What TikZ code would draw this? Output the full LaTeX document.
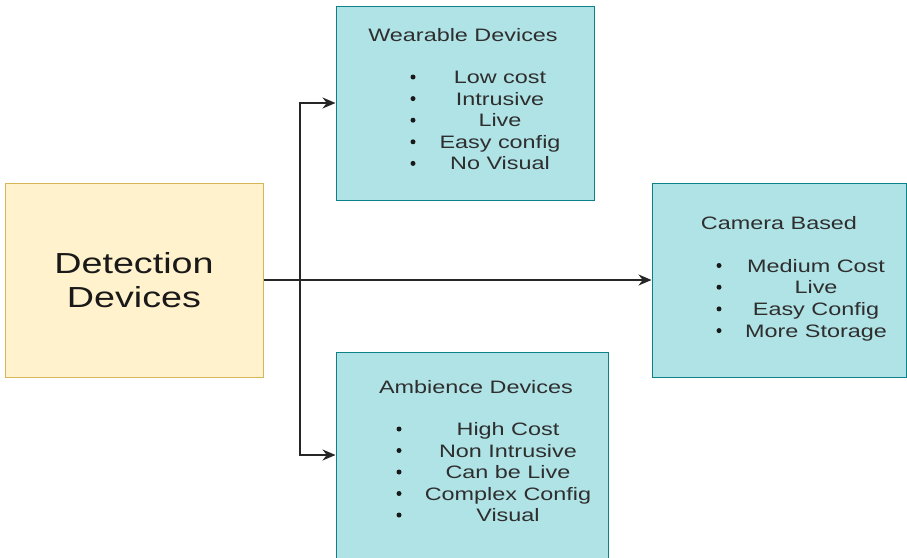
\documentclass[tikz,border=0pt]{standalone}
\usepackage{fontspec}
\setmainfont[FakeStretch=1.3]{Liberation Sans}
\usetikzlibrary{arrows.meta}
\definecolor{detfill}{HTML}{FFF2CC}
\definecolor{detline}{HTML}{D6B656}
\definecolor{devfill}{HTML}{B0E3E6}
\definecolor{devline}{HTML}{0E8088}
\definecolor{ink}{HTML}{2E2E2E}

\tikzset{
  ybox/.style={draw=detline, fill=detfill, line width=1pt, inner sep=0pt,
    minimum width=258pt, minimum height=194pt, align=center, text=black!90,
    font=\fontsize{29}{34}\selectfont},
  tbox/.style={draw=devline, fill=devfill, line width=1pt, inner sep=0pt},
  txt/.style={text=ink, font=\fontsize{18}{21}\selectfont, inner sep=0pt,
    text height=13pt, text depth=0pt},
  dot/.style={fill=black!90, circle, inner sep=0pt, minimum size=5pt},
  link/.style={draw=black!85, line width=1.3pt},
  tip/.style={-{Stealth[length=13pt,width=11pt]}}
}

\begin{document}
\begin{tikzpicture}[x=1pt,y=-1pt]
\useasboundingbox (0,0) rectangle (907,557);

% boxes
\node[ybox] (det) at (134,280) {Detection\\Devices};
\node[tbox, minimum width=258pt, minimum height=194pt] (wear) at (465,103) {};
\node[tbox, minimum width=254pt, minimum height=194pt] (cam) at (779,280) {};
\node[tbox, minimum width=272pt, minimum height=206pt] (amb) at (472,455) {};

% titles
\node[txt] (weart) at (463,35) {Wearable Devices};
\node[txt] (camt) at (779,223) {Camera Based};
\node[txt] (ambt) at (476,387) {Ambience Devices};

% bullet lists
\foreach \t [count=\i] in {Low cost, Intrusive, Live, Easy config, No Visual} {
  \node[dot] (wb\i) at (413,{77+21.6*(\i-1)}) {};
  \node[txt] (wi\i) at (500,{77+21.6*(\i-1)}) {\t};
}
\foreach \t [count=\i] in {Medium Cost, Live, Easy Config, More Storage} {
  \node[dot] (cb\i) at (719,{265.5+21.7*(\i-1)}) {};
  \node[txt] (ci\i) at (816,{265.5+21.7*(\i-1)}) {\t};
}
\foreach \t [count=\i] in {High Cost, Non Intrusive, Can be Live, Complex Config, Visual} {
  \node[dot] (ab\i) at (399,{429+21.5*(\i-1)}) {};
  \node[txt] (ai\i) at (508,{429+21.5*(\i-1)}) {\t};
}

% connectors
\coordinate (fork) at (300,280);
\draw[link,tip] (det.east) -- (cam.west);
\draw[link,tip] (fork) |- (wear.west);
\draw[link,tip] (fork) |- (amb.west);
\end{tikzpicture}
\end{document}
